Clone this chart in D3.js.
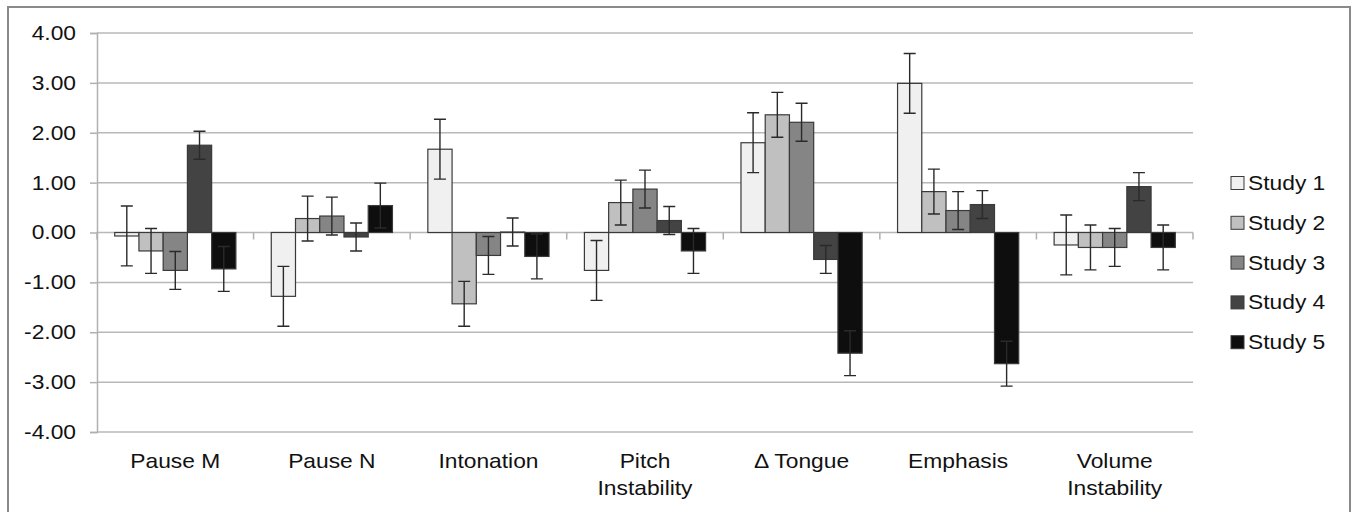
<!DOCTYPE html>
<html>
<head>
<meta charset="utf-8">
<script src="https://cdn.jsdelivr.net/npm/d3@7"></script>
<style>
  body { margin: 0; background: #fff; }
  text { font-family: "Liberation Sans", Arial, sans-serif; fill: #111; }
</style>
</head>
<body>
<svg id="main-svg"></svg>
<script>
// data
var categories = ["Pause M", "Pause N", "Intonation", "Pitch\nInstability", "\u0394 Tongue", "Emphasis", "Volume\nInstability"];
var studies = ["Study 1", "Study 2", "Study 3", "Study 4", "Study 5"];
var study1 = [-0.07, -1.28, 1.67, -0.76, 1.80, 2.99, -0.25];
var study2 = [-0.37, 0.28, -1.43, 0.60, 2.36, 0.82, -0.30];
var study3 = [-0.76, 0.33, -0.46, 0.87, 2.21, 0.44, -0.30];
var study4 = [1.75, -0.09, 0.01, 0.24, -0.54, 0.56, 0.92];
var study5 = [-0.73, 0.54, -0.48, -0.37, -2.42, -2.63, -0.30];
var errors = [0.60, 0.45, 0.38, 0.28, 0.45];
var yTicks = [-4, -3, -2, -1, 0, 1, 2, 3, 4];
var colors = ["#f0f0f0", "#c0c0c0", "#858585", "#434343", "#0e0e0e"];

var series = [study1, study2, study3, study4, study5];

var width = 1357, height = 512;
// plot area edges (note: "top" is reserved on window, so use other names)
var plotLeft = 97, plotRight = 1193, plotTop = 33, plotBottom = 432;
var fontSize = 20, stretch = 1.14; // the original picture is a bit wider than tall

var svg = d3.select('#main-svg').attr('width', width).attr('height', height);

// outer frame
svg.append('rect')
  .attr('x', 8).attr('y', 7)
  .attr('width', 1342).attr('height', 520)
  .attr('fill', 'none').attr('stroke', '#8a8a8a').attr('stroke-width', 2);

var x0 = d3.scaleBand().domain(categories).range([plotLeft, plotRight]).padding(0);
var x1 = d3.scaleBand().domain(studies).range([0, x0.bandwidth()]).paddingInner(0).paddingOuter(0.73);
var y = d3.scaleLinear().domain([-4, 4]).range([plotBottom, plotTop]);

// gridlines
svg.append('g').selectAll('line').data(yTicks).enter().append('line')
  .attr('x1', plotLeft).attr('x2', plotRight)
  .attr('y1', (d) => y(d)).attr('y2', (d) => y(d))
  .attr('stroke', '#b8b8b8').attr('stroke-width', 1.5);

// y axis (plain hyphen for negatives, like the original)
var fmt = (d) => d3.format('.2f')(d).replace('\u2212', '-');
var yAxis = svg.append('g')
  .attr('transform', `translate(${plotLeft},0)`)
  .call(d3.axisLeft(y).tickValues(yTicks).tickFormat(fmt).tickSize(7).tickPadding(14));
yAxis.select('.domain').attr('stroke', '#b0b0b0').attr('stroke-width', 1.5);
yAxis.selectAll('.tick line').attr('stroke', '#b0b0b0').attr('stroke-width', 1.5);
yAxis.selectAll('.tick text')
  .attr('x', 0)
  .attr('transform', `translate(-21,0) scale(${stretch},1)`)
  .style('font-size', fontSize + 'px')
  .style('font-family', '"Liberation Sans", Arial, sans-serif')
  .attr('fill', '#111');

// category ticks on zero line
svg.append('g').selectAll('line').data(d3.range(categories.length + 1)).enter().append('line')
  .attr('x1', (i) => plotLeft + i * x0.step()).attr('x2', (i) => plotLeft + i * x0.step())
  .attr('y1', y(0)).attr('y2', y(0) + 7)
  .attr('stroke', '#b0b0b0').attr('stroke-width', 1.5);

// bars
var groups = svg.append('g').selectAll('g').data(categories).enter().append('g')
  .attr('transform', (d) => `translate(${x0(d)},0)`);

var cells = groups.selectAll('g').data((d, ci) => studies.map((s, si) => ({s: s, si: si, v: series[si][ci]})))
  .enter().append('g');

cells.append('rect')
  .attr('x', (d) => x1(d.s))
  .attr('y', (d) => y(Math.max(0, d.v)))
  .attr('width', x1.bandwidth())
  .attr('height', (d) => Math.abs(y(d.v) - y(0)))
  .attr('fill', (d) => colors[d.si])
  .attr('stroke', '#3a3a3a').attr('stroke-width', 1.2);

// error bars
var cap = 6;
cells.append('path')
  .attr('d', (d) => {
    var cx = x1(d.s) + x1.bandwidth() / 2;
    var yt = y(d.v + errors[d.si]), yb = y(d.v - errors[d.si]);
    return `M${cx - cap},${yt}H${cx + cap}M${cx},${yt}V${yb}M${cx - cap},${yb}H${cx + cap}`;
  })
  .attr('fill', 'none').attr('stroke', '#2a2a2a').attr('stroke-width', 1.4);

// category labels
var labels = svg.append('g').selectAll('text').data(categories).enter().append('text')
  .attr('transform', (d) => `translate(${x0(d) + x0.bandwidth() / 2},468) scale(${stretch},1)`)
  .attr('text-anchor', 'middle')
  .style('font-size', fontSize + 'px');
labels.selectAll('tspan').data((d) => d.split('\n')).enter().append('tspan')
  .attr('x', 0)
  .attr('dy', (d, i) => i ? 27 : 0)
  .text((d) => d);

// legend
var legend = svg.append('g').selectAll('g').data(studies).enter().append('g')
  .attr('transform', (d, i) => `translate(1231,${183 + i * 39.8})`);
legend.append('rect')
  .attr('x', 0).attr('y', -6.5).attr('width', 13).attr('height', 13)
  .attr('fill', (d, i) => colors[i])
  .attr('stroke', '#3a3a3a').attr('stroke-width', 1);
legend.append('text')
  .attr('transform', `translate(17,7) scale(${stretch},1)`)
  .style('font-size', fontSize + 'px')
  .text((d) => d);
</script>
</body>
</html>
